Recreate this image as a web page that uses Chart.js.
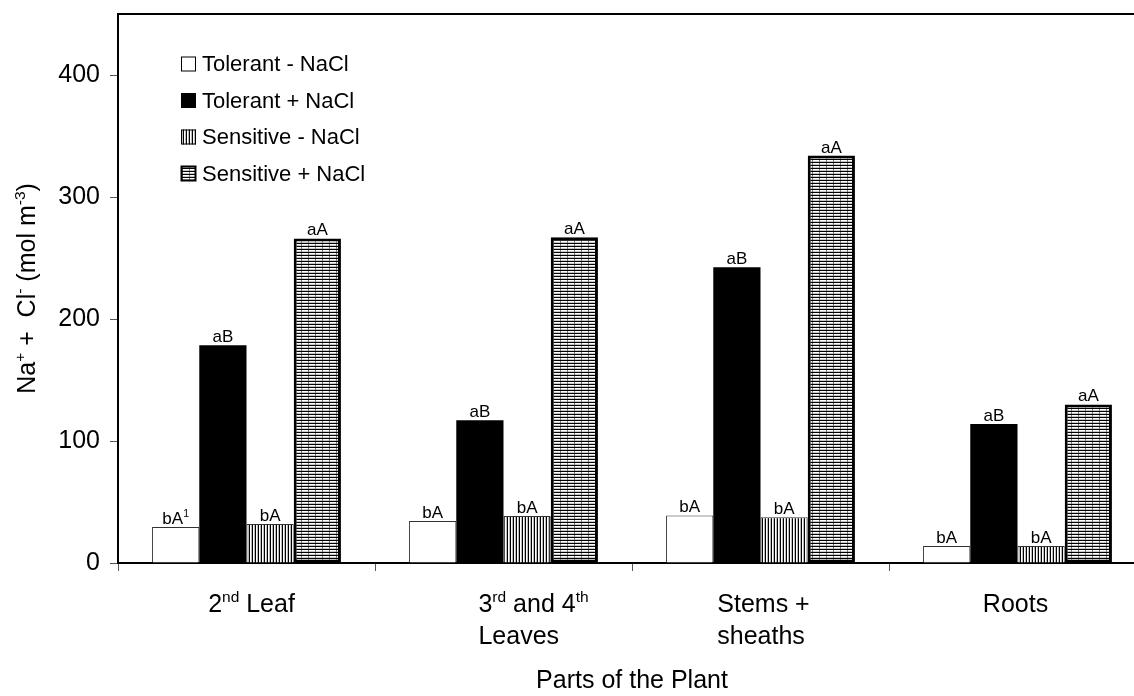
<!DOCTYPE html>
<html>
<head>
<meta charset="utf-8">
<script src="https://cdn.jsdelivr.net/npm/chart.js@4.4.1/dist/chart.umd.min.js"></script>
<style>
  html, body { margin: 0; padding: 0; background: #fff; overflow: hidden; }
  #wrap { width: 1134px; height: 696px; overflow: hidden; position: relative; }
  #wrap canvas { position: absolute; left: 0; top: 0; }
</style>
</head>
<body>
<div id="wrap"><canvas id="chart" width="1160" height="696"></canvas></div>
<script>
// categories (^...^ marks superscript text)
var categories = ['2nd Leaf', '3rd and 4th Leaves', 'Stems + sheaths', 'Roots'];
var categoryLines = [
    ['2^nd^ Leaf'],
    ['3^rd^ and 4^th^', 'Leaves'],
    ['Stems +', 'sheaths'],
    ['Roots']
];
var seriesNames = ['Tolerant - NaCl', 'Tolerant + NaCl', 'Sensitive - NaCl', 'Sensitive + NaCl'];

// Na+ + Cl- (mol m-3)
var tolerantMinus = [29.5, 34.5, 39, 14];
var tolerantPlus = [178.5, 117, 242.5, 114];
var sensitiveMinus = [32, 38.5, 37.5, 14];
var sensitivePlus = [266, 267, 334, 130];

// letters above the bars
var tolerantMinusMarks = ['bA^1^', 'bA', 'bA', 'bA'];
var tolerantPlusMarks = ['aB', 'aB', 'aB', 'aB'];
var sensitiveMinusMarks = ['bA', 'bA', 'bA', 'bA'];
var sensitivePlusMarks = ['aA', 'aA', 'aA', 'aA'];

var yTicks = [0, 100, 200, 300, 400];
var yTitle = 'Na^+^ +  Cl^-^ (mol m^-3^)';
var xTitle = 'Parts of the Plant';

var FONT = '"Liberation Sans", Arial, sans-serif';

function makePattern(w, h, draw) {
    var c = document.createElement('canvas');
    c.width = w;
    c.height = h;
    var g = c.getContext('2d');
    draw(g);
    return g.createPattern(c, 'repeat');
}

// vertical stripes
var vStripes = makePattern(3, 1, function(g) {
    g.fillStyle = '#fff';
    g.fillRect(0, 0, 3, 1);
    g.fillStyle = '#000';
    g.fillRect(0, 0, 1, 1);
    g.fillStyle = '#bbb';
    g.fillRect(2, 0, 1, 1);
});

// horizontal lines with faint dashed verticals
var hLines = makePattern(7, 3, function(g) {
    g.fillStyle = '#fff';
    g.fillRect(0, 0, 7, 3);
    g.fillStyle = '#000';
    g.fillRect(0, 0, 7, 1);
    g.fillStyle = '#c8c8c8';
    g.fillRect(0, 2, 7, 1);
    g.fillStyle = '#777';
    g.fillRect(0, 1, 1, 2);
});

// draws text where ^...^ parts are superscripts
function richWidth(ctx, str, size) {
    var parts = str.split('^');
    var w = 0;
    for (var i = 0; i < parts.length; i++) {
        var s = i % 2 ? size * 0.62 : size;
        ctx.font = s + 'px ' + FONT;
        w += ctx.measureText(parts[i]).width;
    }
    return w;
}

function drawRich(ctx, str, x, y, size, align) {
    var parts = str.split('^');
    var w = richWidth(ctx, str, size);
    var cx = x;
    if (align === 'center') cx = x - w / 2;
    if (align === 'right') cx = x - w;
    ctx.textAlign = 'left';
    ctx.textBaseline = 'alphabetic';
    for (var i = 0; i < parts.length; i++) {
        var sup = i % 2 === 1;
        var s = sup ? size * 0.62 : size;
        ctx.font = s + 'px ' + FONT;
        ctx.fillText(parts[i], cx, sup ? y - size * 0.4 : y);
        cx += ctx.measureText(parts[i]).width;
    }
}

var marks = [tolerantMinusMarks, tolerantPlusMarks, sensitiveMinusMarks, sensitivePlusMarks];

var extras = {
    id: 'extras',
    afterDatasetsDraw: function(chart) {
        var ctx = chart.ctx;
        ctx.save();
        ctx.fillStyle = '#000';
        chart.data.datasets.forEach(function(ds, d) {
            var meta = chart.getDatasetMeta(d);
            meta.data.forEach(function(bar, i) {
                drawRich(ctx, marks[d][i], bar.x, bar.y - 3, 17, 'center');
            });
        });
        ctx.restore();
    },
    afterDraw: function(chart) {
        var ctx = chart.ctx;
        var area = chart.chartArea;
        var xs = chart.scales.x;
        ctx.save();
        ctx.fillStyle = '#000';

        // top frame line
        ctx.strokeStyle = '#000';
        ctx.lineWidth = 2;
        ctx.beginPath();
        ctx.moveTo(area.left - 1, area.top);
        ctx.lineTo(area.right, area.top);
        ctx.stroke();

        // category labels
        var shift = [5, 30, 3, -2];
        categoryLines.forEach(function(lines, i) {
            var cx = xs.getPixelForValue(i) + shift[i];
            if (lines.length === 1) {
                drawRich(ctx, lines[0], cx, 612, 25, 'center');
            } else {
                var maxW = 0;
                lines.forEach(function(l) { maxW = Math.max(maxW, richWidth(ctx, l, 25)); });
                lines.forEach(function(l, k) {
                    drawRich(ctx, l, cx - maxW / 2, 612 + k * 32, 25, 'left');
                });
            }
        });

        // axis titles
        drawRich(ctx, xTitle, (area.left + area.right) / 2, 688, 25, 'center');
        ctx.save();
        ctx.translate(35, (area.top + area.bottom) / 2);
        ctx.rotate(-Math.PI / 2);
        drawRich(ctx, yTitle, 0, 0, 25, 'center');
        ctx.restore();

        // legend inside the plot
        chart.data.datasets.forEach(function(ds, d) {
            var cy = 64 + d * 36.5;
            ctx.fillStyle = ds.backgroundColor;
            ctx.fillRect(181, cy - 7.5, 15, 15);
            ctx.strokeStyle = '#000';
            ctx.lineWidth = d === 3 ? 2 : 1;
            ctx.strokeRect(181.5, cy - 7, 14, 14);
            ctx.fillStyle = '#000';
            ctx.font = '22px ' + FONT;
            ctx.textAlign = 'left';
            ctx.textBaseline = 'middle';
            ctx.fillText(ds.label, 202, cy + 1);
        });
        ctx.restore();
    }
};

var ctx = document.getElementById('chart').getContext('2d');
new Chart(ctx, {
    type: 'bar',
    data: {
        labels: categories,
        datasets: [
            {
                label: seriesNames[0],
                data: tolerantMinus,
                backgroundColor: '#fff',
                borderColor: '#333',
                borderWidth: 1
            },
            {
                label: seriesNames[1],
                data: tolerantPlus,
                backgroundColor: '#000',
                borderColor: '#000',
                borderWidth: 0
            },
            {
                label: seriesNames[2],
                data: sensitiveMinus,
                backgroundColor: vStripes,
                borderColor: '#333',
                borderWidth: 1
            },
            {
                label: seriesNames[3],
                data: sensitivePlus,
                backgroundColor: hLines,
                borderColor: '#000',
                borderWidth: 3,
                borderSkipped: false
            }
        ]
    },
    options: {
        responsive: false,
        animation: false,
        layout: {
            padding: { top: 14, right: 14, left: 0, bottom: 0 }
        },
        datasets: {
            bar: {
                categoryPercentage: 0.735,
                barPercentage: 1.0
            }
        },
        scales: {
            x: {
                z: 1,
                offset: true,
                grid: {
                    offset: true,
                    drawOnChartArea: false,
                    tickLength: 8,
                    tickColor: '#555'
                },
                border: { color: '#000', width: 2 },
                ticks: { display: false },
                afterFit: function(scale) { scale.height = 133; }
            },
            y: {
                min: 0,
                max: 450,
                grid: {
                    drawOnChartArea: false,
                    tickLength: 8,
                    tickColor: '#555'
                },
                border: { color: '#000', width: 2 },
                afterBuildTicks: function(scale) {
                    scale.ticks = yTicks.map(function(v) { return { value: v }; });
                },
                ticks: {
                    color: '#000',
                    padding: 10,
                    font: { family: FONT, size: 25 }
                },
                afterFit: function(scale) {
                    scale.width = 118;
                    scale.paddingTop = 0;
                    scale.paddingBottom = 0;
                }
            }
        },
        plugins: {
            legend: { display: false },
            tooltip: { enabled: false }
        }
    },
    plugins: [extras]
});
</script>
</body>
</html>
